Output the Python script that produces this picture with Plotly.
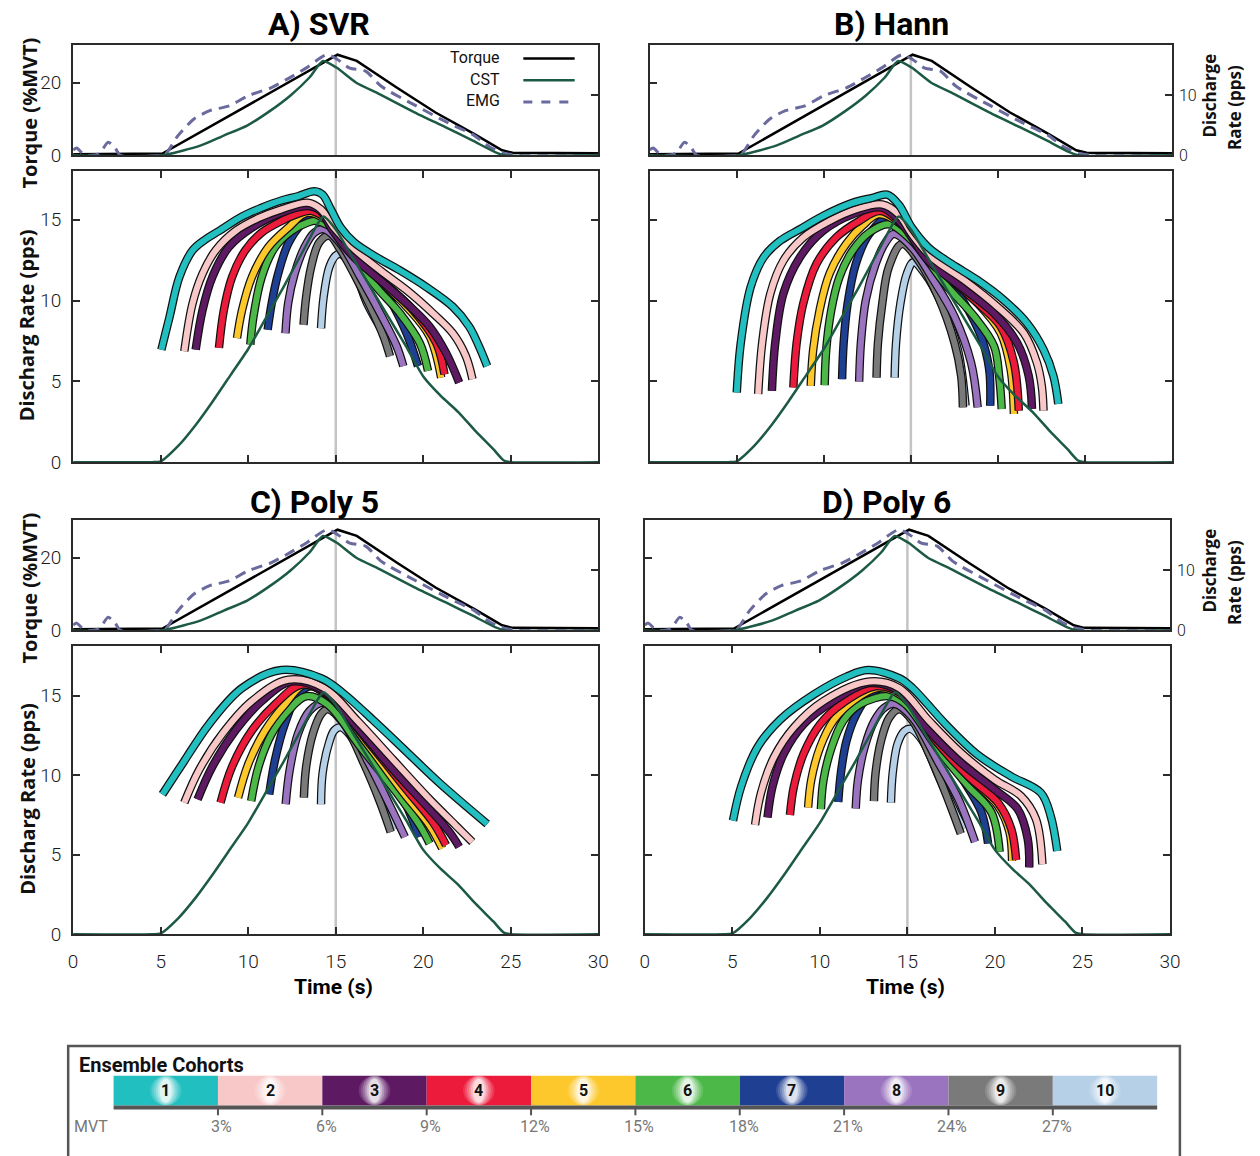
import plotly.graph_objects as go

W, H = 1260, 1156

# ---------------- data ----------------
time_torque = [0, 4.7, 5.1, 15.1, 16.2, 18.5, 20.7, 22.9, 24.5, 25.1, 30]
torque = [0.3, 0.3, 0.5, 27.7, 26.0, 18.6, 11.8, 5.9, 1.4, 0.7, 0.6]

time_emg = [0, 0.2, 0.6, 1.0, 1.5, 2.0, 2.4, 2.7, 5.0, 5.3, 6.0, 6.9, 7.8, 8.9, 10.0, 11.3, 12.2,
            13.3, 14.5, 15.1, 15.8, 16.7, 17.6, 19.6, 21.4, 22.9, 23.8, 24.7, 25.5, 30]
emg = [1.5, 2.0, 0.3, 0, 0.5, 3.6, 2.0, 0, 0, 0.5, 5.5, 10.0, 12.3, 13.6, 16.4, 18.6, 20.9,
       24.0, 27.7, 26.4, 24.0, 23.2, 19.0, 13.6, 9.0, 5.5, 2.3, 0.5, 0, 0]

time_cst_top = [0, 5.06, 7.3, 8.6, 9.94, 11.27, 12.4, 13.5, 14.27, 15.04, 16.15, 17.5, 19.5,
                21.26, 22.8, 24.1, 24.7, 30]
cst_top = [0, 0, 1.66, 3.3, 4.98, 7.47, 9.96, 13.0, 15.76, 14.66, 12.17, 10.23, 7.19, 4.7,
           2.49, 0.55, 0, 0]

time_cst = [0, 4.5, 5.0, 6.0, 7.0, 8.0, 9.0, 10.0, 11.0, 12.0, 13.0, 14.0, 14.3, 15.0, 16.0,
            17.0, 18.0, 19.0, 20.0, 21.0, 22.0, 23.0, 24.0, 24.6, 25.0, 30.0]
cst = [0, 0, 0.05, 1.0, 2.3, 3.8, 5.4, 7.0, 8.9, 10.8, 12.8, 14.8, 15.2, 14.4, 12.6, 10.8, 9.0,
       7.2, 5.3, 4.1, 3.1, 1.9, 0.8, 0.1, 0, 0]

cohort_names = ["1", "2", "3", "4", "5", "6", "7", "8", "9", "10"]
cohort_colors = ["#22bfc0", "#f8c8c8", "#5d1a63", "#ec1b3b", "#fdc82c",
                 "#4cb848", "#1f3f93", "#9a74bf", "#7a7a7a", "#b6d0e8"]
mvt_labels = ["MVT", "3%", "6%", "9%", "12%", "15%", "18%", "21%", "24%", "27%"]

svr_t = [
    [5.04, 5.51, 6.07, 6.82, 7.58, 8.33, 9.65, 10.77, 11.9, 12.84, 13.78, 14.25, 14.72, 15.29, 16.04, 17.17, 18.67, 20.17, 21.68, 22.62, 23.18, 23.65],
    [6.35, 6.82, 7.39, 8.14, 9.27, 10.59, 11.9, 13.4, 14.15, 14.91, 16.04, 17.54, 19.05, 20.55, 21.68, 22.43, 22.81],
    [7.0, 7.39, 7.95, 8.89, 10.21, 11.9, 13.4, 14.15, 14.72, 16.04, 17.54, 19.05, 20.36, 21.3, 22.05],
    [8.33, 8.61, 9.08, 9.83, 10.77, 11.9, 13.03, 13.6, 15.29, 17.17, 19.42, 20.74, 21.21],
    [9.36, 9.65, 10.21, 11.15, 12.28, 13.4, 15.29, 17.17, 19.04, 20.36, 21.02],
    [10.12, 10.3, 10.77, 11.53, 12.47, 13.4, 13.9, 15.29, 17.17, 18.67, 19.8, 20.27],
    [11.11, 11.34, 11.71, 12.28, 13.03, 13.97, 15.29, 16.79, 18.1, 19.04, 19.7],
    [12.13, 12.28, 12.65, 13.22, 13.78, 14.35, 15.29, 16.4, 17.54, 18.48, 18.86],
    [13.16, 13.31, 13.59, 14.06, 14.63, 15.29, 16.04, 16.98, 17.73, 18.1],
    [14.16, 14.31, 14.63, 15.0, 15.29, 16.04, 16.79, 17.73, 18.29],
]
svr_v = [
    [6.96, 9.0, 11.45, 13.1, 13.8, 14.3, 15.2, 15.74, 16.19, 16.45, 16.76, 16.55, 15.64, 14.5, 13.6, 12.78, 11.86, 10.84, 9.62, 8.39, 7.17, 5.94],
    [6.86, 9.82, 11.66, 13.1, 14.3, 15.1, 15.64, 16.05, 15.64, 14.5, 13.2, 11.86, 10.64, 9.21, 7.98, 6.56, 5.13],
    [6.96, 9.4, 11.45, 13.3, 14.5, 15.43, 15.84, 15.53, 14.5, 12.68, 11.25, 9.82, 8.39, 6.76, 4.92],
    [7.07, 9.41, 11.45, 13.1, 14.2, 14.92, 15.43, 15.55, 14.4, 11.76, 9.4, 7.37, 5.43],
    [7.68, 9.41, 11.45, 13.3, 14.5, 15.43, 14.3, 11.66, 9.62, 7.78, 5.23],
    [7.27, 9.0, 11.45, 13.3, 14.3, 14.82, 14.92, 14.1, 11.04, 9.2, 7.37, 5.64],
    [8.19, 9.82, 11.66, 13.5, 14.7, 15.43, 14.3, 12.06, 10.02, 7.98, 5.94],
    [7.98, 9.82, 11.66, 13.3, 14.2, 14.41, 13.5, 11.45, 9.2, 7.17, 5.94],
    [8.49, 10.23, 12.06, 13.6, 14.0, 13.1, 11.66, 9.62, 7.78, 6.55],
    [8.29, 10.23, 12.06, 12.78, 12.88, 11.86, 9.82, 7.98, 6.96],
]

hann_t = [
    [5.0, 5.23, 5.8, 6.55, 7.5, 8.63, 9.95, 11.65, 12.79, 13.64, 14.3, 15.06, 16.0, 17.33, 18.84, 20.35, 21.67, 22.62, 23.19, 23.47],
    [6.23, 6.46, 6.93, 7.68, 8.82, 10.33, 11.84, 13.36, 14.3, 15.06, 16.19, 18.08, 19.97, 21.49, 22.24, 22.52, 22.62],
    [7.02, 7.21, 7.68, 8.63, 9.95, 11.65, 13.36, 14.49, 16.0, 17.89, 19.78, 21.11, 21.77, 21.96],
    [8.25, 8.44, 8.82, 9.58, 10.71, 12.03, 13.26, 14.68, 16.57, 18.65, 20.16, 20.92, 21.2],
    [9.25, 9.39, 9.76, 10.33, 11.28, 12.22, 13.17, 14.68, 16.95, 18.84, 20.16, 20.73, 20.92],
    [10.05, 10.14, 10.43, 10.9, 11.65, 12.6, 13.73, 15.06, 16.95, 18.65, 19.78, 20.07, 20.22],
    [11.05, 11.14, 11.37, 11.84, 12.6, 13.83, 15.06, 16.57, 18.08, 19.03, 19.5, 19.56],
    [12.03, 12.13, 12.41, 12.98, 13.55, 14.02, 15.06, 16.19, 17.51, 18.46, 18.84],
    [13.03, 13.11, 13.36, 13.73, 14.49, 15.44, 16.57, 17.51, 17.89, 17.99],
    [14.07, 14.15, 14.4, 14.77, 15.15, 15.81, 16.76, 17.7, 18.14],
]
hann_v = [
    [4.31, 7.37, 10.84, 12.68, 13.7, 14.41, 15.23, 16.04, 16.35, 16.55, 15.94, 14.5, 13.29, 12.27, 11.25, 10.02, 8.6, 6.96, 5.33, 3.6],
    [4.21, 7.37, 10.43, 12.47, 13.9, 14.92, 15.64, 15.94, 15.33, 14.1, 12.68, 11.25, 9.62, 7.98, 6.15, 4.72, 3.19],
    [4.41, 7.37, 10.43, 12.68, 14.3, 15.33, 15.74, 14.72, 12.47, 10.84, 9.21, 7.37, 5.33, 3.29],
    [4.62, 7.37, 9.82, 12.27, 13.9, 14.92, 15.53, 14.51, 12.06, 10.02, 8.39, 6.15, 3.19],
    [4.72, 6.96, 9.41, 11.66, 13.5, 14.62, 15.33, 14.51, 11.66, 9.82, 7.98, 5.74, 2.98],
    [4.76, 6.96, 9.41, 11.45, 13.08, 14.2, 14.72, 13.7, 11.04, 9.0, 7.17, 5.33, 3.29],
    [5.13, 7.37, 9.82, 12.27, 14.1, 15.23, 14.31, 12.06, 9.82, 7.78, 5.74, 3.49],
    [4.98, 7.37, 10.02, 12.27, 13.6, 14.11, 13.29, 11.45, 9.0, 6.15, 3.39],
    [5.23, 7.37, 9.82, 12.06, 13.5, 12.47, 10.23, 7.37, 5.33, 3.39],
    [5.23, 7.37, 9.82, 11.66, 12.37, 11.66, 9.82, 6.96, 3.49],
]

poly5_t = [
    [5.1, 6.26, 7.77, 9.65, 11.9, 14.16, 15.29, 17.17, 19.05, 20.93, 23.65],
    [6.35, 7.2, 8.52, 10.21, 12.28, 14.35, 16.23, 18.29, 20.36, 21.86, 22.8],
    [7.11, 7.95, 9.27, 10.77, 12.47, 14.35, 16.23, 18.29, 20.36, 21.49, 22.05],
    [8.42, 9.08, 10.21, 11.53, 13.03, 14.53, 16.79, 19.04, 20.55, 21.3],
    [9.42, 10.02, 10.96, 12.09, 13.22, 14.72, 16.79, 18.86, 20.36, 21.08],
    [10.17, 10.59, 11.34, 12.28, 13.31, 14.53, 16.41, 18.48, 19.8, 20.36],
    [11.2, 11.53, 12.09, 12.84, 13.59, 14.91, 16.79, 18.67, 19.76],
    [12.14, 12.37, 12.84, 13.5, 14.25, 15.29, 16.79, 18.1, 18.95],
    [13.18, 13.31, 13.69, 14.16, 14.53, 15.47, 16.6, 17.54, 18.14],
    [14.16, 14.25, 14.63, 14.91, 15.29, 16.04, 16.98, 17.92, 18.39],
]
poly5_v = [
    [8.79, 10.74, 13.21, 15.47, 16.6, 16.09, 15.27, 13.42, 11.46, 9.5, 6.93],
    [8.27, 10.33, 12.59, 14.65, 15.99, 15.47, 13.42, 10.95, 8.48, 6.83, 5.8],
    [8.48, 10.53, 12.8, 14.65, 15.88, 15.27, 13.0, 10.33, 7.86, 6.42, 5.49],
    [8.27, 10.53, 12.8, 14.44, 15.68, 15.06, 12.18, 9.09, 7.04, 5.6],
    [8.58, 10.74, 12.8, 14.44, 15.68, 14.86, 11.97, 8.89, 6.83, 5.39],
    [8.37, 10.53, 12.59, 14.03, 14.96, 14.44, 11.77, 8.89, 6.83, 5.7],
    [8.79, 10.95, 13.21, 15.06, 15.58, 14.65, 11.77, 8.89, 6.11],
    [8.17, 10.33, 12.59, 14.03, 14.55, 13.83, 10.95, 8.07, 6.11],
    [8.58, 10.53, 12.59, 13.83, 14.14, 13.21, 10.74, 8.27, 6.42],
    [8.17, 10.12, 12.08, 12.8, 13.0, 12.18, 10.12, 7.86, 6.62],
]

poly6_t = [
    [5.04, 5.51, 6.45, 7.77, 9.65, 11.53, 12.75, 14.53, 15.29, 17.17, 19.04, 20.93, 22.62, 23.18, 23.56],
    [6.3, 6.64, 7.39, 8.52, 10.21, 12.84, 14.53, 16.23, 18.1, 19.99, 21.49, 22.34, 22.71],
    [7.01, 7.3, 7.95, 9.08, 10.77, 12.84, 14.53, 16.23, 18.1, 19.99, 21.3, 21.87, 21.96],
    [8.29, 8.52, 9.08, 10.02, 11.34, 13.22, 14.72, 16.6, 18.48, 20.17, 20.93, 21.21],
    [9.33, 9.51, 10.02, 10.77, 11.9, 13.31, 14.72, 16.79, 18.67, 20.17, 20.83, 20.98],
    [10.06, 10.21, 10.68, 11.34, 12.28, 13.97, 14.91, 16.79, 18.48, 19.8, 20.27],
    [11.05, 11.2, 11.53, 12.09, 12.84, 13.59, 14.91, 16.6, 18.29, 19.23, 19.61],
    [12.05, 12.18, 12.56, 13.12, 13.69, 14.25, 15.29, 16.79, 17.92, 18.86],
    [13.09, 13.18, 13.5, 13.97, 14.53, 15.29, 16.23, 17.17, 18.05],
    [14.06, 14.16, 14.44, 14.82, 15.19, 15.85, 16.79, 17.73, 18.2],
]
poly6_v = [
    [7.14, 9.3, 11.77, 13.52, 15.06, 16.19, 16.6, 16.09, 15.47, 13.21, 11.25, 9.92, 8.89, 7.45, 5.23],
    [6.87, 8.89, 11.15, 13.0, 14.65, 15.88, 15.47, 13.42, 11.36, 9.71, 8.68, 7.24, 4.4],
    [7.34, 9.3, 11.36, 13.21, 14.65, 15.78, 15.27, 12.8, 10.74, 9.09, 7.86, 6.01, 4.2],
    [7.49, 9.3, 11.36, 13.21, 14.55, 15.58, 15.06, 12.18, 9.92, 8.27, 6.62, 4.67],
    [7.96, 9.71, 11.77, 13.42, 14.65, 15.47, 14.96, 11.97, 9.71, 8.07, 6.42, 4.61],
    [7.86, 9.71, 11.77, 13.42, 14.44, 14.96, 14.44, 11.56, 9.3, 7.65, 5.18],
    [8.31, 10.12, 12.18, 13.83, 15.06, 15.47, 14.86, 12.18, 9.5, 7.65, 5.7],
    [7.9, 9.71, 11.77, 13.42, 14.24, 14.48, 13.62, 10.74, 8.48, 5.8],
    [8.37, 10.12, 12.18, 13.62, 14.14, 13.42, 11.36, 8.89, 6.32],
    [8.27, 10.12, 11.97, 12.76, 12.9, 12.18, 9.92, 7.65, 6.62],
]

# ---------------- styling / layout ----------------
FRAME = "#2b2b2b"
CST_COLOR = "#1d5a44"
EMG_COLOR = "#6a6a9e"
SANS = "Roboto, Liberation Sans, sans-serif"
TICK_FONT = dict(family=SANS, size=19, color="#1a1a1a", weight=300)
TITLE_FONT = dict(family="Open Sans, DejaVu Sans, sans-serif", size=20, color="#111")


def px(x):
    return x / W


def py(y):
    return 1 - y / H


panels = [
    dict(title="<b>A) SVR</b>", tx=318, ty=24, t=svr_t, v=svr_v, x0=69, x1=601,
         top=(45, 157), bot=(173, 467), left=True, xlab=False),
    dict(title="<b>B) Hann</b>", tx=898, ty=24, t=hann_t, v=hann_v, x0=653, x1=1182,
         top=(45, 157), bot=(173, 467), left=False, xlab=False),
    dict(title="<b>C) Poly 5</b>", tx=313, ty=507, t=poly5_t, v=poly5_v, x0=69, x1=601,
         top=(525, 637), bot=(653, 944), left=True, xlab=True),
    dict(title="<b>D) Poly 6</b>", tx=893, ty=507, t=poly6_t, v=poly6_v, x0=648, x1=1180,
         top=(525, 637), bot=(653, 944), left=False, xlab=True),
]

fig = go.Figure()
layout = dict(width=W, height=H, margin=dict(l=0, r=0, t=0, b=0), autosize=False,
              plot_bgcolor="white", paper_bgcolor="white", showlegend=False)
shapes = []
annotations = []


def axname(prefix, n):
    return prefix + ("" if n == 1 else str(n))


def axkey(prefix, n):
    return prefix + "axis" + ("" if n == 1 else str(n))


for i, p in enumerate(panels):
    nxt, nxb = 2 * i + 1, 2 * i + 2
    nyl, nyr, nyb = 3 * i + 1, 3 * i + 2, 3 * i + 3
    xt, xb = axname("x", nxt), axname("x", nxb)
    yl, yr, yb = axname("y", nyl), axname("y", nyr), axname("y", nyb)
    xdom = [px(p["x0"]), px(p["x1"])]
    tdom = [py(p["top"][1]), py(p["top"][0])]
    bdom = [py(p["bot"][1]), py(p["bot"][0])]
    ybot_max = 18.0 if i < 2 else 18.1

    common = dict(showgrid=False, zeroline=False, showline=True, linecolor=FRAME, linewidth=2,
                  tickcolor=FRAME, tickwidth=1.5, ticklen=7, tickfont=TICK_FONT)
    layout[axkey("x", nxt)] = dict(common, domain=xdom, anchor=yl, range=[0, 30], mirror=True,
                                   ticks="", showticklabels=False)
    layout[axkey("y", nyl)] = dict(common, domain=tdom, anchor=xt, range=[0, 30.5], mirror=True,
                                   tickvals=[0, 20], ticks="inside", showticklabels=p["left"],
                                   ticklabelstandoff=6)
    layout[axkey("y", nyr)] = dict(common, overlaying=yl, side="right", anchor=xt, range=[0, 18.5],
                                   tickvals=[0, 10], ticks="inside", showline=False,
                                   showticklabels=not p["left"], ticklabelstandoff=6,
                                   tickfont=dict(TICK_FONT, size=16))
    layout[axkey("x", nxb)] = dict(common, domain=xdom, anchor=yb, range=[0, 30],
                                   tickvals=[0, 5, 10, 15, 20, 25, 30], ticks="inside",
                                   mirror="allticks", showticklabels=p["xlab"], ticklabelstandoff=9)
    layout[axkey("y", nyb)] = dict(common, domain=bdom, anchor=xb, range=[0, ybot_max],
                                   tickvals=[0, 5, 10, 15], ticks="inside", mirror="allticks",
                                   showticklabels=p["left"], ticklabelstandoff=6)

    # grey reference line at 15 s
    shapes.append(dict(type="line", xref=xt, yref=yl, x0=15, x1=15, y0=0, y1=max(torque),
                       line=dict(color="#c4c4c4", width=2.5), layer="below"))
    shapes.append(dict(type="line", xref=xb, yref=yb + " domain", x0=15, x1=15, y0=0, y1=1,
                       line=dict(color="#c4c4c4", width=2.5), layer="below"))

    # top panel traces
    fig.add_trace(go.Scatter(x=time_torque, y=torque, mode="lines", xaxis=xt, yaxis=yl,
                             line=dict(color="black", width=2.5), hoverinfo="skip"))
    fig.add_trace(go.Scatter(x=time_emg, y=emg, mode="lines", xaxis=xt, yaxis=yl,
                             line=dict(color=EMG_COLOR, width=3, dash="11px,7px", shape="spline",
                                       smoothing=0.7), hoverinfo="skip"))
    fig.add_trace(go.Scatter(x=time_cst_top, y=cst_top, mode="lines", xaxis=xt, yaxis=yr,
                             line=dict(color=CST_COLOR, width=2.5, shape="spline", smoothing=0.6),
                             hoverinfo="skip"))

    # cohort curves (outline + colour), cohort 10 first so cohort 1 ends on top
    for k in range(9, -1, -1):
        fig.add_trace(go.Scatter(x=p["t"][k], y=p["v"][k], mode="lines", xaxis=xb, yaxis=yb,
                                 line=dict(color="#111111", width=8.5, shape="spline", smoothing=1),
                                 hoverinfo="skip"))
        fig.add_trace(go.Scatter(x=p["t"][k], y=p["v"][k], mode="lines", xaxis=xb, yaxis=yb,
                                 line=dict(color=cohort_colors[k], width=6, shape="spline",
                                           smoothing=1), hoverinfo="skip"))
    fig.add_trace(go.Scatter(x=time_cst, y=cst, mode="lines", xaxis=xb, yaxis=yb,
                             line=dict(color=CST_COLOR, width=2.5, shape="spline", smoothing=0.6),
                             hoverinfo="skip"))

    # panel title
    annotations.append(dict(text=p["title"], x=px(p["tx"]), y=py(p["ty"]), xref="paper",
                            yref="paper", showarrow=False, xanchor="center", yanchor="middle",
                            font=dict(family=SANS, size=32, color="black")))
    ymid_top = (p["top"][0] + p["top"][1]) / 2
    ymid_bot = (p["bot"][0] + p["bot"][1]) / 2
    if p["left"]:
        annotations.append(dict(text="<b>Torque (%MVT)</b>", x=px(25), y=py(ymid_top + 13),
                                xref="paper", yref="paper", showarrow=False, textangle=-90,
                                xanchor="center", yanchor="middle", font=TITLE_FONT))
        annotations.append(dict(text="<b>Discharg Rate (pps)</b>", x=px(22), y=py(ymid_bot + 9),
                                xref="paper", yref="paper", showarrow=False, textangle=-90,
                                xanchor="center", yanchor="middle", font=TITLE_FONT))
    else:
        annotations.append(dict(text="<b>Discharge</b>", x=px(1220), y=py(ymid_top - 4),
                                xref="paper", yref="paper", showarrow=False, textangle=-90,
                                xanchor="center", yanchor="middle", font=dict(TITLE_FONT, size=17)))
        annotations.append(dict(text="<b>Rate (pps)</b>", x=px(1246), y=py(ymid_top + 8),
                                xref="paper", yref="paper", showarrow=False, textangle=-90,
                                xanchor="center", yanchor="middle", font=dict(TITLE_FONT, size=17)))
    if p["xlab"]:
        annotations.append(dict(text="<b>Time (s)</b>", x=px((p["x0"] + p["x1"]) / 2 - 2),
                                y=py(997), xref="paper", yref="paper", showarrow=False,
                                xanchor="center", yanchor="middle",
                                font=dict(family=SANS, size=21, color="black")))

# legend inside panel A top
leg_items = [("Torque", "black", "solid", 2.5, 59), ("CST", CST_COLOR, "solid", 2.5, 81),
             ("EMG", EMG_COLOR, "dash", 3, 103)]
for name, col, dash, wid, yy in leg_items:
    annotations.append(dict(text=name, x=px(503), y=py(yy - 1), xref="paper", yref="paper",
                            showarrow=False, xanchor="right", yanchor="middle",
                            font=dict(family=SANS, size=16, color="#111")))
    shapes.append(dict(type="line", xref="paper", yref="paper", x0=px(525), x1=px(577),
                       y0=py(yy), y1=py(yy), line=dict(color=col, width=wid, dash=dash)))

# ensemble cohort colour bar
shapes.append(dict(type="rect", xref="paper", yref="paper", x0=px(64), x1=px(1190),
                   y0=py(1175), y1=py(1057), line=dict(color="#555555", width=2.5)))
annotations.append(dict(text="<b>Ensemble Cohorts</b>", x=px(73), y=py(1076), xref="paper",
                        yref="paper", showarrow=False, xanchor="left", yanchor="middle",
                        font=dict(family=SANS, size=20, color="#111")))
bar_x0, bar_x1 = 110, 1167
cell_w = (bar_x1 - bar_x0) / len(cohort_names)
glow = [(16, 17, 0.12), (14, 16, 0.14), (12, 15, 0.18), (10, 14, 0.25), (8, 13, 0.35),
        (6, 12, 0.5)]
for k, (nm, col) in enumerate(zip(cohort_names, cohort_colors)):
    cx0 = bar_x0 + k * cell_w
    shapes.append(dict(type="rect", xref="paper", yref="paper", x0=px(cx0), x1=px(cx0 + cell_w),
                       y0=py(1117), y1=py(1087), line=dict(width=0), fillcolor=col))
    cxm = cx0 + cell_w / 2
    for (rw, rh, op) in glow:
        shapes.append(dict(type="circle", xref="paper", yref="paper", x0=px(cxm - rw),
                           x1=px(cxm + rw), y0=py(min(1102 + rh, 1117)),
                           y1=py(max(1102 - rh, 1087)),
                           line=dict(width=0), fillcolor="white", opacity=op))
    annotations.append(dict(text="<b>" + nm + "</b>", x=px(cxm), y=py(1102), xref="paper",
                            yref="paper", showarrow=False, xanchor="center", yanchor="middle",
                            font=dict(family=SANS, size=16, color="#111")))
shapes.append(dict(type="line", xref="paper", yref="paper", x0=px(bar_x0), x1=px(bar_x1),
                   y0=py(1119), y1=py(1119), line=dict(color="#555555", width=4)))
for k, lab in enumerate(mvt_labels):
    if k == 0:
        annotations.append(dict(text=lab, x=px(87), y=py(1138), xref="paper", yref="paper",
                                showarrow=False, xanchor="center", yanchor="middle",
                                font=dict(family=SANS, size=16, color="#777")))
        continue
    bx = bar_x0 + k * cell_w
    shapes.append(dict(type="line", xref="paper", yref="paper", x0=px(bx), x1=px(bx),
                       y0=py(1119), y1=py(1127), line=dict(color="#555555", width=2)))
    annotations.append(dict(text=lab, x=px(bx + 4), y=py(1138), xref="paper", yref="paper",
                            showarrow=False, xanchor="center", yanchor="middle",
                            font=dict(family=SANS, size=16, color="#777")))

layout["shapes"] = shapes
layout["annotations"] = annotations
fig.update_layout(**layout)
fig.write_html(
    "out.html",
    config={"displayModeBar": False},
    post_script=("document.documentElement.style.margin='0';"
                 "document.documentElement.style.overflow='hidden';"
                 "document.body.style.margin='0';document.body.style.padding='0';"
                 "document.body.style.overflow='hidden';"),
)
